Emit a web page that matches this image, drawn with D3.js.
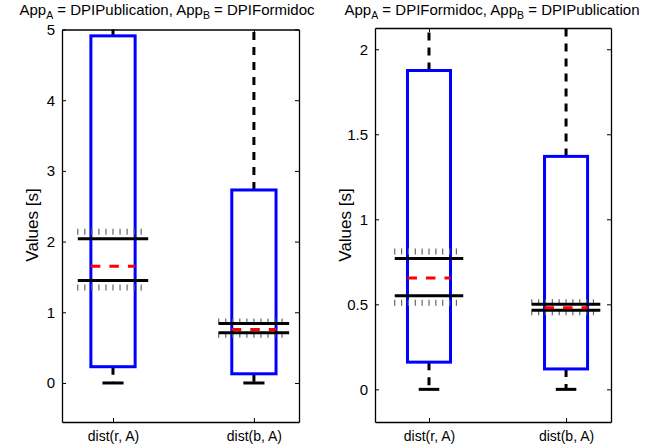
<!DOCTYPE html>
<html>
<head>
<meta charset="utf-8">
<script src="https://cdn.jsdelivr.net/npm/d3@7"></script>
<style>
  body { margin: 0; background: #fff; }
  svg { display: block; font-family: "Liberation Sans", Arial, sans-serif; }
</style>
</head>
<body>
<svg id="chart" width="668" height="446"></svg>
<script>
"use strict";

var categories = ["dist(r, A)", "dist(b, A)"];

// left panel: App_A = DPIPublication, App_B = DPIFormidoc
var left_box_high = [4.91, 2.73];
var left_box_low = [0.23, 0.13];
var left_whisker_high = [6.5, 6.5];
var left_whisker_low = [0, 0];
var left_median = [1.65, 0.755];
var left_ci_high = [2.04, 0.84];
var left_ci_low = [1.45, 0.71];
var left_ticks = [0, 1, 2, 3, 4, 5];

// right panel: App_A = DPIFormidoc, App_B = DPIPublication
var right_box_high = [1.875, 1.37];
var right_box_low = [0.16, 0.12];
var right_whisker_high = [2.5, 2.5];
var right_whisker_low = [0, 0];
var right_median = [0.655, 0.48];
var right_ci_high = [0.77, 0.50];
var right_ci_low = [0.55, 0.465];
var right_ticks = [0, 0.5, 1, 1.5, 2];

var svg = d3.select("#chart");

function drawPanel(opt) {
    var xScale = d3.scaleLinear().domain(opt.xDomain).range([opt.left, opt.right]);
    var yScale = d3.scaleLinear().domain(opt.yDomain).range([opt.bottom, opt.top]);

    var g = svg.append("g");

    g.append("clipPath").attr("id", opt.id + "-clip")
        .append("rect")
        .attr("x", opt.left).attr("y", opt.top)
        .attr("width", opt.right - opt.left).attr("height", opt.bottom - opt.top);

    var data = categories.map(function(c, i) {
        return {
            name: c, pos: i + 1,
            hi: opt.boxHigh[i], lo: opt.boxLow[i],
            wHi: opt.whiskerHigh[i], wLo: opt.whiskerLow[i],
            med: opt.median[i], ciHi: opt.ciHigh[i], ciLo: opt.ciLow[i]
        };
    });

    var plot = g.append("g").attr("clip-path", "url(#" + opt.id + "-clip)");
    var boxHalf = 0.157, ciHalf = 0.25, capHalf = 0.075;

    var boxes = plot.selectAll(".box").data(data).enter().append("g").attr("class", "box");

    // whiskers
    boxes.append("line")
        .attr("x1", function(d) {return xScale(d.pos);})
        .attr("x2", function(d) {return xScale(d.pos);})
        .attr("y1", function(d) {return yScale(d.hi);})
        .attr("y2", function(d) {return yScale(d.wHi);})
        .attr("stroke", "#000").attr("stroke-width", 3).attr("stroke-dasharray", "8,7");
    boxes.append("line")
        .attr("x1", function(d) {return xScale(d.pos);})
        .attr("x2", function(d) {return xScale(d.pos);})
        .attr("y1", function(d) {return yScale(d.lo);})
        .attr("y2", function(d) {return yScale(d.wLo);})
        .attr("stroke", "#000").attr("stroke-width", 3).attr("stroke-dasharray", "8,7");
    boxes.append("line")
        .attr("x1", function(d) {return xScale(d.pos - capHalf);})
        .attr("x2", function(d) {return xScale(d.pos + capHalf);})
        .attr("y1", function(d) {return yScale(d.wLo);})
        .attr("y2", function(d) {return yScale(d.wLo);})
        .attr("stroke", "#000").attr("stroke-width", 3);

    // box
    boxes.append("rect")
        .attr("x", function(d) {return xScale(d.pos - boxHalf);})
        .attr("width", function(d) {return xScale(d.pos + boxHalf) - xScale(d.pos - boxHalf);})
        .attr("y", function(d) {return yScale(d.hi);})
        .attr("height", function(d) {return yScale(d.lo) - yScale(d.hi);})
        .attr("fill", "none").attr("stroke", "#0000ff").attr("stroke-width", 3);

    // hatch ticks on confidence lines (shorter when the two lines are close)
    var nTicks = d3.range(10);
    boxes.each(function(d) {
        var b = d3.select(this);
        var x0 = xScale(d.pos - ciHalf), x1 = xScale(d.pos + ciHalf);
        var step = (x1 - x0) / 10;
        var gapPx = yScale(d.ciLo) - yScale(d.ciHi);
        var start = gapPx > 20 ? 4 : -1;
        var end = gapPx > 20 ? 10 : 5;
        [[d.ciHi, -1], [d.ciLo, 1]].forEach(function(p) {
            var y = yScale(p[0]);
            b.selectAll(null).data(nTicks).enter().append("line")
                .attr("x1", function(i) {return x0 + i * step;})
                .attr("x2", function(i) {return x0 + i * step;})
                .attr("y1", y + p[1] * start)
                .attr("y2", y + p[1] * end)
                .attr("stroke", "#666").attr("stroke-width", 1.2);
        });
    });

    // confidence lines
    ["ciHi", "ciLo"].forEach(function(k) {
        boxes.append("line")
            .attr("x1", function(d) {return xScale(d.pos - ciHalf);})
            .attr("x2", function(d) {return xScale(d.pos + ciHalf);})
            .attr("y1", function(d) {return yScale(d[k]);})
            .attr("y2", function(d) {return yScale(d[k]);})
            .attr("stroke", "#000").attr("stroke-width", 3);
    });

    // median
    boxes.append("line")
        .attr("x1", function(d) {return xScale(d.pos - boxHalf);})
        .attr("x2", function(d) {return xScale(d.pos + boxHalf);})
        .attr("y1", function(d) {return yScale(d.med);})
        .attr("y2", function(d) {return yScale(d.med);})
        .attr("stroke", "#ff0000").attr("stroke-width", 3).attr("stroke-dasharray", "9.5,9");

    // axes (MATLAB style: inward ticks, box around)
    var yAxisL = d3.axisLeft(yScale).tickValues(opt.ticks).tickSizeInner(-4).tickSizeOuter(0).tickPadding(7)
        .tickFormat(d3.format("~g"));
    var gy = g.append("g").attr("transform", "translate(" + opt.left + ",0)").call(yAxisL);
    gy.selectAll("text").attr("font-size", 15).attr("font-family", "Liberation Sans, Arial, sans-serif");

    var yAxisR = d3.axisRight(yScale).tickValues(opt.ticks).tickSizeInner(-4).tickSizeOuter(0).tickFormat("");
    g.append("g").attr("transform", "translate(" + opt.right + ",0)").call(yAxisR);

    var xAxisB = d3.axisBottom(xScale).tickValues([1, 2]).tickSizeInner(-4).tickSizeOuter(0).tickPadding(9)
        .tickFormat(function(d) {return categories[d - 1];});
    var gx = g.append("g").attr("transform", "translate(0," + opt.bottom + ")").call(xAxisB);
    gx.selectAll("text").attr("font-size", 14).attr("font-family", "Liberation Sans, Arial, sans-serif");

    var xAxisT = d3.axisTop(xScale).tickValues([1, 2]).tickSizeInner(-4).tickSizeOuter(0).tickFormat("");
    g.append("g").attr("transform", "translate(0," + opt.top + ")").call(xAxisT);

    g.selectAll(".domain").attr("stroke", "#000").attr("stroke-width", 1.3);
    g.selectAll(".tick line").attr("stroke", "#000");

    // y label
    g.append("text")
        .attr("text-anchor", "middle")
        .attr("transform", "translate(" + opt.labelX + ",225) rotate(-90)")
        .attr("font-size", 17)
        .text("Values [s]");

    // title with subscripts
    var t = g.append("text")
        .attr("x", opt.titleX).attr("y", 14.5)
        .attr("text-anchor", "middle")
        .attr("font-size", 15);
    t.append("tspan").text("App");
    t.append("tspan").attr("dy", 4).attr("font-size", 10.5).text("A");
    t.append("tspan").attr("dy", -4).text(" = " + opt.appA + ", App");
    t.append("tspan").attr("dy", 4).attr("font-size", 10.5).text("B");
    t.append("tspan").attr("dy", -4).text(" = " + opt.appB);
}

drawPanel({
    id: "left", left: 62, right: 299, top: 29.5, bottom: 422,
    xDomain: [0.638, 2.32], yDomain: [-0.552, 5.0],
    boxHigh: left_box_high, boxLow: left_box_low,
    whiskerHigh: left_whisker_high, whiskerLow: left_whisker_low,
    median: left_median, ciHigh: left_ci_high, ciLow: left_ci_low,
    ticks: left_ticks, labelX: 38, titleX: 167,
    appA: "DPIPublication", appB: "DPIFormidoc"
});

drawPanel({
    id: "right", left: 375, right: 611, top: 28, bottom: 422,
    xDomain: [0.606, 2.328], yDomain: [-0.192, 2.125],
    boxHigh: right_box_high, boxLow: right_box_low,
    whiskerHigh: right_whisker_high, whiskerLow: right_whisker_low,
    median: right_median, ciHigh: right_ci_high, ciLow: right_ci_low,
    ticks: right_ticks, labelX: 351, titleX: 492,
    appA: "DPIFormidoc", appB: "DPIPublication"
});
</script>
</body>
</html>
